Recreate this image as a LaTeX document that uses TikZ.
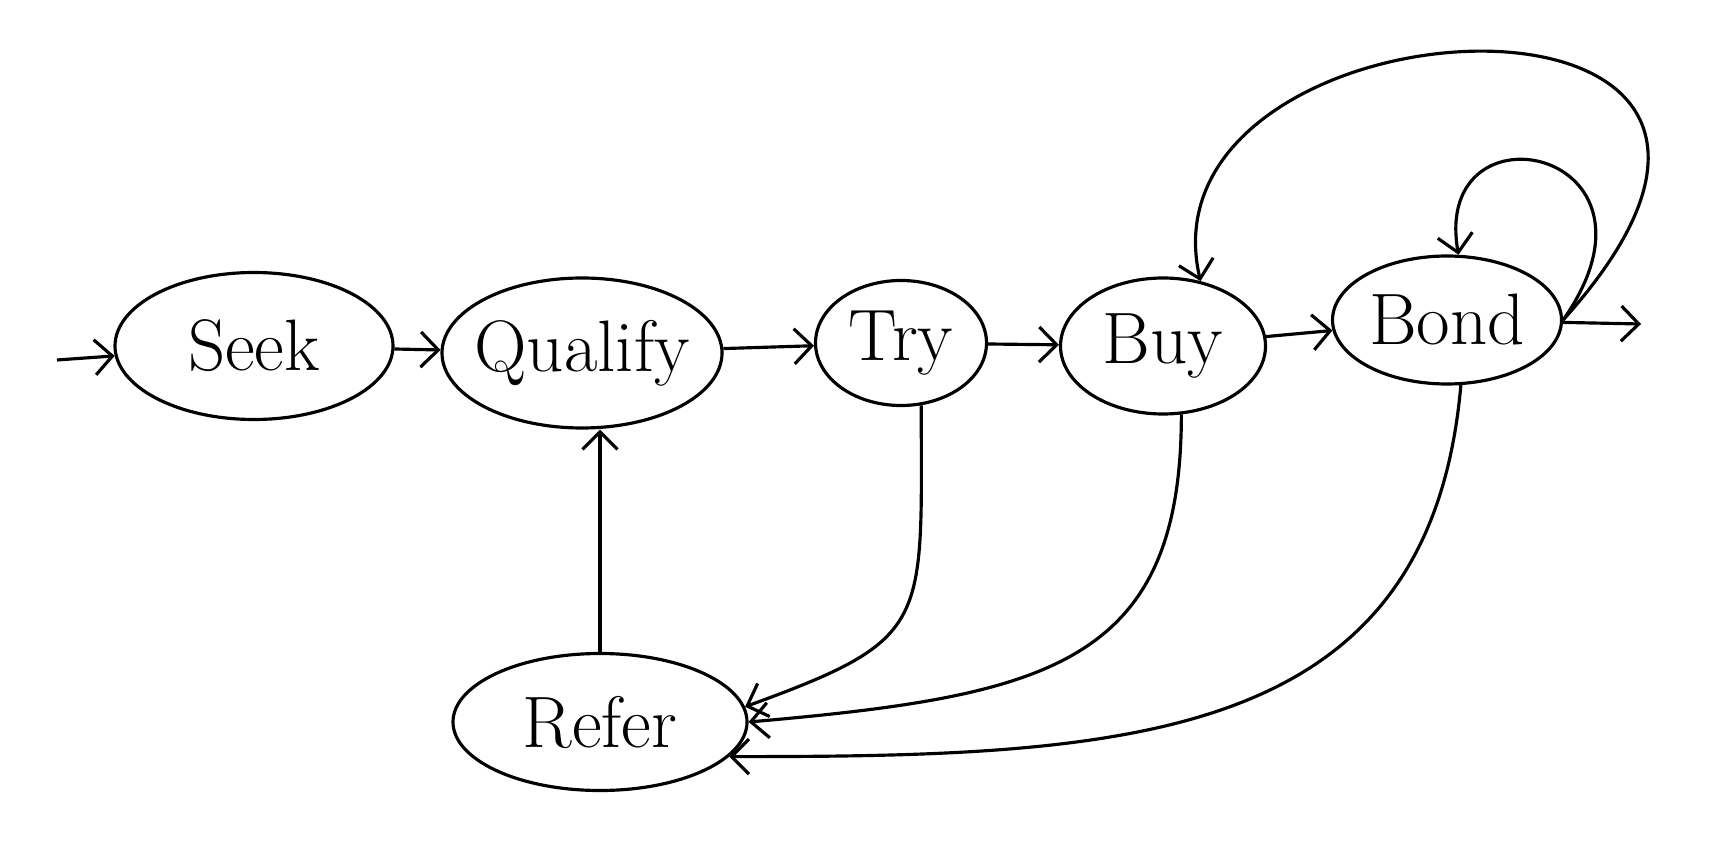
\documentclass[tikz,border=0pt]{standalone}
\usepackage{amsmath}
\usetikzlibrary{arrows.meta, shapes}

\begin{document}
\begin{tikzpicture}[auto,
>={Straight Barb[length=5pt, width=10pt]},
%
stage/.style={draw=black, ellipse, inner sep=0pt, font=\huge},
%
feedback/.style={->, black}]

\tikzset{every path/.style={line width=.9pt}}

\useasboundingbox (0,0) rectangle (17.1,8.63);

\begin{scope}
  %%%%%%%%%%%%%%%%%%%%%%%%%%%%%%
  \node [stage, minimum width=2.78cm, minimum height=1.47cm] (Seek) at (2.54,5.17) {Seek};
  \node [stage, minimum width=2.80cm, minimum height=1.50cm, inner xsep=-2mm] (Qualify) at (5.82,5.10) {Qualify};
  \node [stage, minimum width=1.71cm, minimum height=1.25cm] (Try) at (9.01,5.20) {Try};
  \node [stage, minimum width=2.05cm, minimum height=1.36cm] (Buy) at (11.63,5.17) {Buy};
  \node [stage, minimum width=2.29cm, minimum height=1.28cm, inner xsep=-1mm] (Bond) at (14.47,5.43) {Bond};
  %%%%%%%%%%%%%%%%%%%%%%%%%%%%%%
  \node [stage, minimum width=2.94cm, minimum height=1.37cm] (Refer) at (6.00,1.41) {Refer};
  %%%%%%%%%%%%%%%%%%%%%%%%%%%%%%
  \coordinate (start) at (0.57,5.03);
  \coordinate (finish) at (16.41,5.39);
\end{scope}

\begin{scope}
  \draw [->] (start) -- (Seek);
  \draw [->] (Seek) -- (Qualify);
  \draw [->] (Qualify) -- (Try);
  \draw [->] (Try) -- (Buy);
  \draw [->] (Buy) -- (Bond);
  \draw [->] (Bond) -- (finish);
  %%%%%%%%%%%%%%%%%%%%%%%%%%%%%%
  \draw [feedback] (Bond.east) .. controls ++(48:5) and ++(103:3) .. (Buy.60);
  \draw [feedback] (Bond.east) .. controls ++(55:2.1) and ++(100:1.6) .. (Bond.80);
  %%%%%%%%%%%%%%%%%%%%%%%%%%%%%%
  \draw [feedback] (Try.-72) .. controls ++(-90:2.2) and ++(20:2) .. (Refer.6);
  \draw [feedback] (Buy.-75) .. controls ++(-90:2.5) and ++(5:3) .. (Refer.east);
  \draw [feedback] (Bond.-78) .. controls ++(-95:3.6) and ++(0:4) .. (Refer.-15);
  \draw [->] (Refer.north) -- (Refer.north |- Qualify.south);
\end{scope}

\end{tikzpicture}
\end{document}
